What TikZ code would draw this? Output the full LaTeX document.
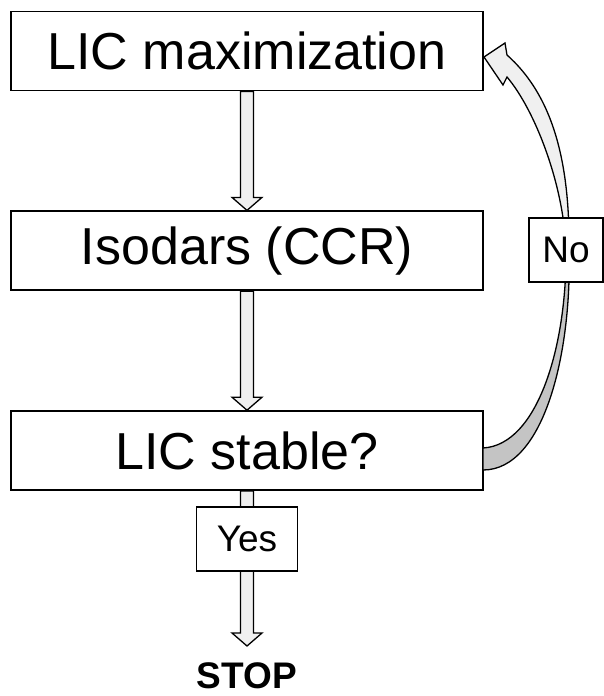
\documentclass[tikz,border=0pt]{standalone}
\usepackage{fontspec}
\setmainfont{Liberation Sans}
\usetikzlibrary{positioning, calc}
\definecolor{arrowlight}{HTML}{F0F0F0}
\definecolor{arrowdark}{HTML}{C4C4C4}
\tikzset{
  stepbox/.style={draw, line width=1.8pt, fill=white, minimum width=472pt,
    minimum height=79pt, inner sep=0pt, font=\fontsize{52}{60}\selectfont},
  answerbox/.style={draw, line width=1.5pt, fill=white, minimum height=64pt,
    inner sep=0pt, font=\fontsize{37}{42}\selectfont},
  arrowbody/.style={draw, line width=1.3pt, fill=arrowlight, line join=miter},
}
% block arrow pointing down from #1 to #2
\newcommand{\fatarrow}[2]{%
  \draw[arrowbody] let \p1=(#1), \p2=(#2) in
    (\x1-6.5pt,\y1) -- (\x1-6.5pt,\y2+13pt) -- (\x1-15pt,\y2+13pt)
    -- (\x1,\y2) -- (\x1+15pt,\y2+13pt) -- (\x1+6.5pt,\y2+13pt)
    -- (\x1+6.5pt,\y1) -- cycle;}

\begin{document}
\begin{tikzpicture}[x=1pt, y=-1pt]
    \useasboundingbox (0,0) rectangle (604,696);

    % --- MAIN STEPS ---
    \node[stepbox] (max) at (247,51) {LIC maximization};
    \node[stepbox, below=119pt of max] (iso) {Isodars (CCR)};
    \node[stepbox, below=119pt of iso] (stable) {LIC stable?};

    % --- END ---
    \node[font=\bfseries\fontsize{37}{44}\selectfont, inner sep=0pt, text depth=0pt] (stop) at (247,676) {STOP};
    \coordinate[below=155pt of stable.south] (stoptip);

    % --- DOWNWARD ARROWS ---
    \fatarrow{max.south}{iso.north}
    \fatarrow{iso.south}{stable.north}
    \fatarrow{stable.south}{stoptip}

    % --- LOOP BACK ARROW ---
    % lower half (darker)
    \draw[arrowbody, fill=arrowdark] (483,448) .. controls (538,445) and (567,345) .. (566,250)
        -- (569,250) .. controls (572,350) and (545,470) .. (483,470) -- cycle;
    % upper half with head
    \draw[arrowbody] (566,250) .. controls (564,185) and (535,110) .. (507,77)
        -- (503,85) -- (484,57) -- (505,43) -- (507,55)
        .. controls (552,95) and (570,160) .. (569,250) -- cycle;

    % --- ANSWERS ---
    \node[answerbox, minimum width=101pt] (yes) at (247,539) {Yes};
    \node[answerbox, minimum width=74pt] (no) at (566,250) {No};

\end{tikzpicture}
\end{document}
